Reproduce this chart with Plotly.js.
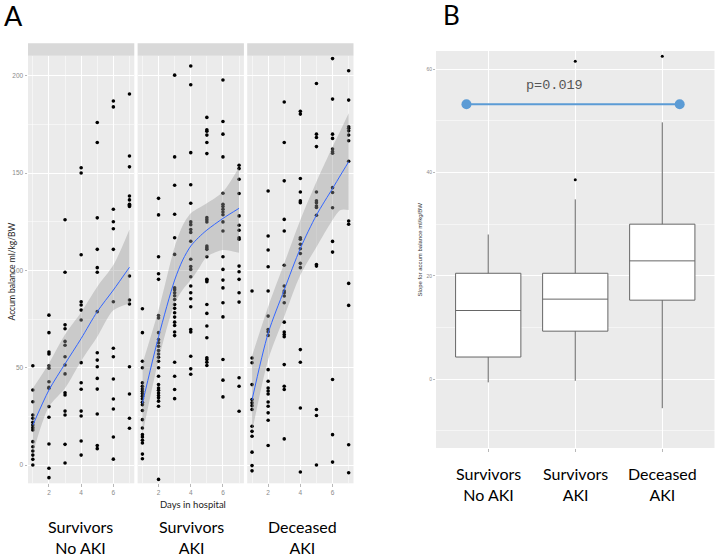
<!DOCTYPE html>
<html>
<head>
<meta charset="utf-8">
<script src="https://cdn.plot.ly/plotly-3.0.1.min.js"></script>
<style>html,body{margin:0;padding:0;background:#fff;}#chart{width:716px;height:556px;}</style>
</head>
<body>
<div id="chart"></div>
<script>
// ---------- DATA ----------
const days = [1, 2, 3, 4, 5, 6, 7];
const groupLine1 = ['Survivors', 'Survivors', 'Deceased'];
const groupLine2 = ['No AKI', 'AKI', 'AKI'];

// Panel A: accumulated balance (ml/kg/BW) per day, one list per day
const noAkiPoints = [
  [51, 38.5, 32.5, 25.7, 24, 22, 20.5, 19.2, 18, 12, 9.4, 7.2, 5.1, 2.9, 0],
  [77, 68, 58, 57, 51, 49.7, 42.8, 39.9, 39.4, 30, 24.5, 10.8, -1.7, -6.5],
  [126, 99, 72, 70, 63.5, 61.5, 55.6, 51.4, 46.8, 37.1, 36, 27.7, 25.7, 10.6, 1],
  [152.7, 150, 108, 83.9, 82.2, 79.6, 74.5, 52.6, 42.3, 38.9, 27.7, 25.2, 12.3, 5.1],
  [176, 165.7, 127, 110.8, 101.4, 99, 78.8, 57.7, 53.9, 50.5, 44.5, 39, 26.2, 10, 8.4],
  [187, 184, 131.4, 125, 121.4, 110.8, 83.9, 60, 55.6, 44.2, 33.9, 28.8, 14.4, 3],
  [190.6, 158.8, 153.2, 138.2, 136.2, 134, 133.4, 132.8, 97.1, 84.8, 82.7, 50.5, 36.5, 24, 18.9]
];
const akiPoints = [
  [80.3, 68, 53.3, 50, 42.2, 40.5, 39.1, 37.9, 36.7, 35.3, 34, 32.2, 31, 28, 23.3, 19, 15.6, 14.4, 12.7, 11.3, 5.6, 3.2],
  [137, 128.5, 107, 98.3, 95.4, 76.8, 75.5, 68, 64.5, 62.8, 61, 58.8, 57, 55.4, 53.3, 50, 45.6, 41.3, 39.6, 38.4, 37, 35.7, 34.5, 32.8, 30.2, -7.4],
  [200.3, 158.3, 143.7, 128.8, 116.8, 108.2, 91, 90, 88.5, 87, 85, 82.5, 80.5, 78.2, 76, 73.4, 71.7, 68.3, 66.5, 52.8, 45.6, 38.8, 34.1],
  [205, 195.4, 160.5, 144, 134.5, 124.9, 123.5, 121, 119.5, 115, 105.7, 102, 100.5, 96.7, 92, 88.5, 85.4, 81.3, 69.6, 68.4, 55.9, 49.4, 46.6],
  [178.6, 172.2, 171.5, 169.5, 165.7, 160, 127.1, 126, 124.9, 112.5, 111.6, 110.8, 107, 95.4, 95, 94.2, 82.5, 77.9, 71.4, 65.4, 55.1, 54.2, 52.8, 51.1],
  [197.8, 176.5, 170, 158.3, 139.6, 134, 132.8, 131.4, 130, 128.6, 124.9, 120.2, 107, 100.5, 95, 91, 83.4, 76.1, 54.2, 43.6, 35],
  [154, 152.3, 146.8, 139.5, 128, 123.2, 120.6, 116.8, 116, 102.2, 99.3, 95.4, 88.5, 83.7, 44.8, 40.5, 27.6]
];
const deceasedPoints = [
  [89.4, 55, 52.5, 41.3, 33.6, 32, 30.5, 28.5, 19.9, 17.3, 14.8, 6.6, -0.3, -3],
  [140.8, 117.7, 110.5, 101.9, 89.4, 76.5, 69.6, 68.5, 66.6, 49, 43, 39.6, 38, 36.5, 32.4, 30.2, 26.8, 23, 10],
  [186.5, 165.7, 146, 126.2, 120.2, 102.6, 92, 89.4, 88.5, 86.8, 83.4, 73.4, 68.3, 67, 65.9, 51.6, 40.5, 38.8, 13.4],
  [181.7, 180.3, 147.2, 140.3, 135.7, 134.8, 116.8, 116, 113.4, 111.1, 108.7, 103.6, 101.4, 59.3, 52.8, 29.3, -3.6],
  [196, 170, 168.3, 163.6, 140.3, 135.7, 134.8, 133.1, 132.3, 128.3, 103, 102.2, 28.5, 25.4, 0],
  [208.8, 188, 170, 167.8, 162.3, 161, 160.2, 142.5, 140, 132.2, 114.9, 109.4, 43.9, 15.6, 1.5],
  [202.6, 187.5, 173.8, 173, 171.7, 169.5, 166.6, 156.1, 125.4, 123.7, 93.3, 82, 10.4, -4]
];

// Loess fit and confidence band per group
const noAkiFitDays = [1, 2, 3, 4, 5, 6, 7];
const noAkiFit     = [20.5, 38.5, 52, 65, 78.8, 89.9, 101.6];
const noAkiUpper   = [39.4, 52.2, 67, 78.5, 91.6, 102.7, 121];
const noAkiLower   = [6, 30, 39.5, 53.5, 65.9, 79.5, 83];
const akiFitDays   = [1, 2, 3, 3.5, 4, 4.5, 5, 6, 7];
const akiFit       = [31.7, 65.9, 95, 105.3, 112.5, 117, 120.7, 126.7, 131.9];
const akiUpper     = [52, 79.6, 112, 123, 129.3, 132, 134.5, 140.4, 153];
const akiLower     = [15.8, 54, 83, 90, 95, 101, 107, 110.5, 109];
const deceasedFitDays = [1, 2, 3, 4, 5, 6, 6.5, 7];
const deceasedFit     = [33.4, 67.7, 90, 111.3, 128.4, 142.1, 149, 155.8];
const deceasedUpper   = [56, 81.3, 103.6, 125.9, 145.5, 163.5, 172, 180.7];
const deceasedLower   = [17, 54, 76.2, 97.6, 112, 125.9, 131, 131];

// Panel B: slope box plots (precomputed stats)
const boxPos    = [1, 2, 3];
const boxLowerW = [-0.6, -0.3, -5.6];
const boxQ1     = [4.3, 9.3, 15.3];
const boxMedian = [13.3, 15.5, 22.9];
const boxQ3     = [20.5, 20.5, 30.0];
const boxUpperW = [28.0, 34.8, 49.7];
const outlierX  = [2, 2, 3];
const outlierY  = [38.6, 61.5, 62.5];
const pBracketX = [0.75, 3.2];
const pBracketY = [53.2, 53.2];
const pText = 'p=0.019';

// ---------- BUILD ----------
const W = 716, H = 556;
const px = v => v / W;
const py = v => 1 - v / H;

const facetX = [[28, 134.3], [137.6, 243.9], [247.2, 353.5]];
const plotTopA = 55.7, plotBotA = 483.3, stripTopA = 43.3;

const groupsA = [
  {pts: noAkiPoints, fx: noAkiFitDays, fit: noAkiFit, up: noAkiUpper, lo: noAkiLower},
  {pts: akiPoints, fx: akiFitDays, fit: akiFit, up: akiUpper, lo: akiLower},
  {pts: deceasedPoints, fx: deceasedFitDays, fit: deceasedFit, up: deceasedUpper, lo: deceasedLower}
];

const traces = [];
const sp = {shape: 'spline', smoothing: 0.8};
groupsA.forEach((g, i) => {
  const s = i === 0 ? '' : String(i + 1);
  const xs = [], ys = [];
  g.pts.forEach((list, d) => list.forEach(v => { xs.push(days[d]); ys.push(v); }));
  traces.push({x: xs, y: ys, xaxis: 'x' + s, yaxis: 'y' + s, type: 'scatter', mode: 'markers',
    marker: {color: '#000', size: 3.6}, hoverinfo: 'skip', showlegend: false});
  traces.push({x: g.fx, y: g.up, xaxis: 'x' + s, yaxis: 'y' + s, type: 'scatter', mode: 'lines',
    line: Object.assign({width: 0}, sp), hoverinfo: 'skip', showlegend: false});
  traces.push({x: g.fx, y: g.lo, xaxis: 'x' + s, yaxis: 'y' + s, type: 'scatter', mode: 'lines',
    line: Object.assign({width: 0}, sp), fill: 'tonexty', fillcolor: 'rgba(153,153,153,0.4)',
    hoverinfo: 'skip', showlegend: false});
  traces.push({x: g.fx, y: g.fit, xaxis: 'x' + s, yaxis: 'y' + s, type: 'scatter', mode: 'lines',
    line: Object.assign({color: '#3366FF', width: 1}, sp), hoverinfo: 'skip', showlegend: false});
});

traces.push({type: 'box', xaxis: 'x4', yaxis: 'y4', x: boxPos, q1: boxQ1, median: boxMedian, q3: boxQ3,
  lowerfence: boxLowerW, upperfence: boxUpperW, width: 0.75, whiskerwidth: 0,
  fillcolor: '#ffffff', line: {color: '#666666', width: 1}, boxpoints: false, hoverinfo: 'skip', showlegend: false});
traces.push({type: 'scatter', mode: 'markers', xaxis: 'x4', yaxis: 'y4', x: outlierX, y: outlierY,
  marker: {color: '#000', size: 3}, hoverinfo: 'skip', showlegend: false});
traces.push({type: 'scatter', mode: 'lines+markers', xaxis: 'x4', yaxis: 'y4', x: pBracketX, y: pBracketY,
  line: {color: '#5b9bd5', width: 2}, marker: {color: '#5b9bd5', size: 10}, hoverinfo: 'skip', showlegend: false, cliponaxis: false});

const tickFont = {family: 'Liberation Sans, Arial, sans-serif', size: 6.5, color: '#8a8a8a'};
const baseX = {range: [0.7, 7.3], tickmode: 'linear', tick0: 0, dtick: 2, ticks: 'outside', ticklen: 2.5,
  tickcolor: '#9a9a9a', tickwidth: 0.7, tickfont: tickFont, showgrid: true, gridcolor: '#ffffff', gridwidth: 1,
  minor: {dtick: 1, tick0: 0, showgrid: true, gridcolor: '#ffffff', gridwidth: 0.5}, zeroline: false, showline: false, fixedrange: true};
const baseY = {range: [-9.4, 210.3], tickmode: 'linear', tick0: 0, dtick: 50, ticks: 'outside', ticklen: 2.5,
  tickcolor: '#9a9a9a', tickwidth: 0.7, tickfont: tickFont, showgrid: true, gridcolor: '#ffffff', gridwidth: 1,
  minor: {dtick: 25, tick0: 0, showgrid: true, gridcolor: '#ffffff', gridwidth: 0.5}, zeroline: false, showline: false,
  domain: [py(plotBotA), py(plotTopA)], fixedrange: true};

const layout = {
  width: W, height: H, margin: {l: 0, r: 0, t: 0, b: 0},
  paper_bgcolor: '#ffffff', plot_bgcolor: '#ebebeb', showlegend: false,
  xaxis: Object.assign({}, baseX, {domain: [px(facetX[0][0]), px(facetX[0][1])], anchor: 'y'}),
  xaxis2: Object.assign({}, baseX, {domain: [px(facetX[1][0]), px(facetX[1][1])], anchor: 'y2'}),
  xaxis3: Object.assign({}, baseX, {domain: [px(facetX[2][0]), px(facetX[2][1])], anchor: 'y3'}),
  yaxis: Object.assign({}, baseY, {anchor: 'x'}),
  yaxis2: Object.assign({}, baseY, {anchor: 'x2', showticklabels: false, ticks: ''}),
  yaxis3: Object.assign({}, baseY, {anchor: 'x3', showticklabels: false, ticks: ''}),
  xaxis4: {domain: [px(436), px(714.5)], anchor: 'y4', range: [0.4, 3.6], tickmode: 'array', tickvals: boxPos,
    ticktext: ['', '', ''], ticks: 'outside', ticklen: 2.5, tickcolor: '#9a9a9a', tickwidth: 0.7,
    showgrid: true, gridcolor: '#ffffff', gridwidth: 1, zeroline: false, showline: false, fixedrange: true},
  yaxis4: {domain: [py(448), py(51)], anchor: 'x4', range: [-13.3, 63.5], tickmode: 'linear', tick0: 0, dtick: 20,
    ticks: 'outside', ticklen: 2, tickcolor: '#9a9a9a', tickwidth: 0.7,
    tickfont: {family: 'Liberation Sans, Arial, sans-serif', size: 5, color: '#8a8a8a'},
    showgrid: true, gridcolor: '#ffffff', gridwidth: 1,
    minor: {dtick: 10, tick0: 0, showgrid: true, gridcolor: '#ffffff', gridwidth: 0.5},
    zeroline: false, showline: false, fixedrange: true},
  shapes: facetX.map(f => ({type: 'rect', xref: 'paper', yref: 'paper', x0: px(f[0]), x1: px(f[1]),
    y0: py(plotTopA), y1: py(stripTopA), fillcolor: '#d9d9d9', line: {width: 0}, layer: 'below'})),
  annotations: []
};

const ann = (text, x, y, size, opts) => Object.assign({text: text, x: px(x), y: py(y), xref: 'paper', yref: 'paper',
  xanchor: 'center', yanchor: 'middle', showarrow: false,
  font: {family: 'Lato, Liberation Sans, sans-serif', size: size, color: '#000'}}, opts || {});

layout.annotations.push(ann('A', 13, 15, 27));
layout.annotations.push(ann('B', 451, 15, 26));
layout.annotations.push(ann('Days in hospital', 193, 504, 9.5, {font: {family: 'Lato, Liberation Sans, sans-serif', size: 9.5, color: '#222'}}));
layout.annotations.push(ann('Accum balance ml/kg/BW', 11.5, 272, 8.5, {textangle: -90, font: {family: 'Lato, Liberation Sans, sans-serif', size: 8.5, color: '#222'}}));
layout.annotations.push(ann('Slope for accum balance ml/kg/BW', 419.5, 250, 6, {textangle: -90, font: {family: 'Liberation Sans, sans-serif', size: 6, color: '#333'}}));

const labelCentersA = [80, 191, 302];
const labelCentersB = [488.3, 575.5, 662.7];
for (let i = 0; i < 3; i++) {
  const t = groupLine1[i] + '<br>' + groupLine2[i];
  layout.annotations.push(ann(t, labelCentersA[i], 537, 16));
  layout.annotations.push(ann(t, labelCentersB[i], 484, 16));
}
layout.annotations.push({text: pText, xref: 'x4', yref: 'y4', x: (pBracketX[0] + pBracketX[1]) / 2 - 0.21, y: 56.8,
  xanchor: 'center', yanchor: 'middle', showarrow: false,
  font: {family: 'Liberation Mono, Courier New, monospace', size: 13.5, color: '#555'}});

Plotly.newPlot('chart', traces, layout, {staticPlot: true, displayModeBar: false});
</script>
</body>
</html>
